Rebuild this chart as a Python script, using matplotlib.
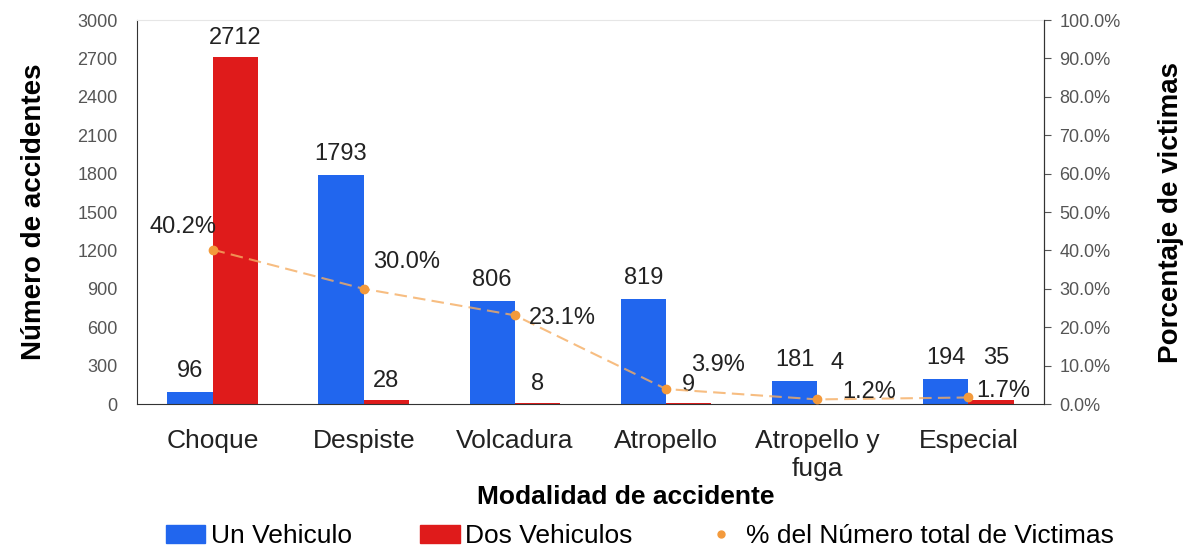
import numpy as np
import matplotlib.pyplot as plt
from matplotlib.lines import Line2D
from matplotlib.patches import Patch

plt.rcParams['font.family'] = ['Liberation Sans', 'DejaVu Sans']

categorias = ['Choque', 'Despiste', 'Volcadura', 'Atropello', 'Atropello y\nfuga', 'Especial']
un_vehiculo = [96, 1793, 806, 819, 181, 194]
dos_vehiculos = [2712, 28, 8, 9, 4, 35]
pct_victimas = [40.2, 30.0, 23.1, 3.9, 1.2, 1.7]

# annotation offsets in points
un_offsets = [(0, 7)] * 6
dos_offsets = [(0, 6), (0, 6), (0, 6), (0, 5), (-2, 21), (4, 22)]
pct_offsets = [(-21, 16), (7, 19), (10, -2), (18, 17), (18, 5), (6, 5)]
pct_ha = ['center', 'left', 'left', 'left', 'left', 'left']

BLUE = '#2166ee'
RED = '#df1b1b'
ORANGE = '#f39a3c'
GRAY = '#555555'
TXT = '#222222'

fig = plt.figure(figsize=(11.85, 5.47), dpi=100)
ax = fig.add_axes([0.1156, 0.2614, 0.7654, 0.702])
ax2 = ax.twinx()

x = np.arange(len(categorias))
w = 0.3
b1 = ax.bar(x - w / 2, un_vehiculo, w, color=BLUE, zorder=2)
b2 = ax.bar(x + w / 2, dos_vehiculos, w, color=RED, zorder=2)

for rect, v, off in zip(b1, un_vehiculo, un_offsets):
    ax.annotate(str(v), (rect.get_x() + rect.get_width() / 2, v), xytext=off,
                textcoords='offset points', ha='center', va='bottom', fontsize=17, color=TXT)
for rect, v, off in zip(b2, dos_vehiculos, dos_offsets):
    ax.annotate(str(v), (rect.get_x() + rect.get_width() / 2, v), xytext=off,
                textcoords='offset points', ha='center', va='bottom', fontsize=17, color=TXT)

ax.set_xlim(-0.5, len(categorias) - 0.5)
ax.set_ylim(0, 3000)
ax.set_yticks(np.arange(0, 3001, 300))
ax.tick_params(axis='y', length=0, labelsize=13, labelcolor=GRAY, pad=14)
ax.set_xticks(x)
ax.set_xticklabels(categorias, fontsize=19, color=TXT)
ax.tick_params(axis='x', length=0, pad=18)

ax.spines['left'].set_color('#333333')
ax.spines['bottom'].set_color('#333333')
ax.spines['top'].set_color('#e6e6e6')
ax.spines['right'].set_color('#333333')

ax.set_ylabel('Número de accidentes', fontsize=20, fontweight='bold', labelpad=22)
ax.set_xlabel('Modalidad de accidente', fontsize=19, fontweight='bold')
ax.xaxis.set_label_coords(0.539, -0.21)

ax2.plot(x, pct_victimas, color='#f5ad62', lw=1.5, linestyle=(0, (6, 3)), alpha=0.8, zorder=3)
ax2.plot(x, pct_victimas, linestyle='none', marker='o', markersize=6,
         color=ORANGE, zorder=4)
for xi, p, off, ha in zip(x, pct_victimas, pct_offsets, pct_ha):
    ax2.annotate(f'{p:.1f}%', (xi, p), xytext=off, textcoords='offset points',
                 ha=ha, va='center', fontsize=17, color=TXT)

ax2.set_ylim(0, 100)
ax2.set_yticks(np.arange(0, 101, 10))
ax2.set_yticklabels([f'{v:.1f}%' for v in np.arange(0, 101, 10)])
ax2.tick_params(axis='y', length=5, color=GRAY, labelsize=13, labelcolor=GRAY, pad=6)
ax2.set_ylabel('Porcentaje de victimas', fontsize=20, fontweight='bold', labelpad=27)
for s in ['left', 'top', 'bottom']:
    ax2.spines[s].set_visible(False)
ax2.spines['right'].set_color('#333333')

handles = [Patch(color=BLUE), Patch(color=RED),
           Line2D([], [], color=ORANGE, marker='o', linestyle='none', markersize=5)]
labels = ['Un Vehiculo', 'Dos Vehiculos', '% del Número total de Victimas']
fig.legend(handles, labels, loc='center', bbox_to_anchor=(0.54, 0.02), ncol=3, frameon=False,
           fontsize=19, handlelength=1.5, handletextpad=0.2, columnspacing=2.6)

fig.savefig('out.png', dpi=100)
